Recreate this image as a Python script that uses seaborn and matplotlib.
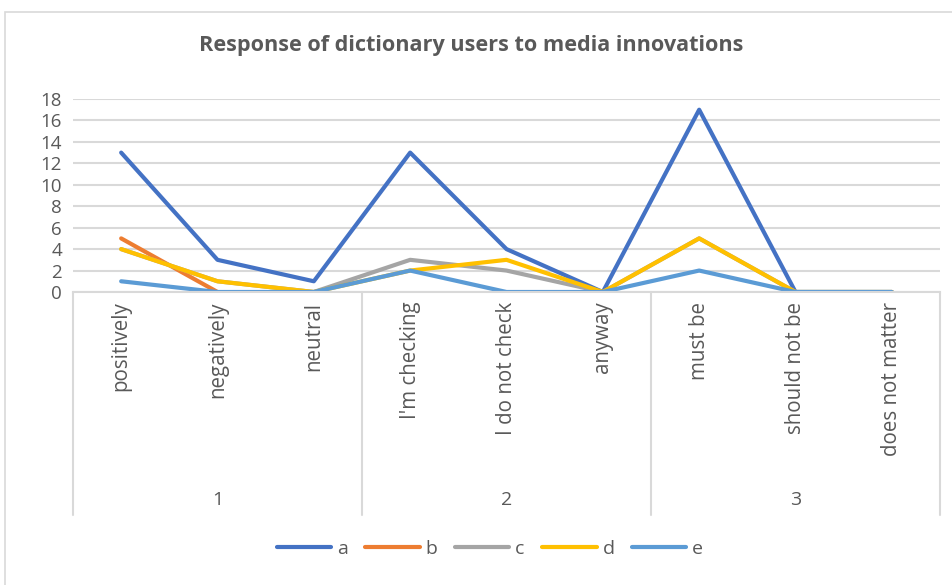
import matplotlib
matplotlib.use("Agg")
import matplotlib.pyplot as plt
import matplotlib.transforms as mtransforms
from matplotlib.patches import Rectangle
import seaborn as sns
import pandas as pd
import numpy as np

categories = ["positively", "negatively", "neutral", "I'm checking", "I do not check",
              "anyway", "must be", "should not be", "does not matter"]
groups = ["1", "2", "3"]
series_names = ["a", "b", "c", "d", "e"]
nan = np.nan
a = [13, 3, 1, 13, 4, 0, 17, 0, 0]
b = [5, 0, nan, nan, nan, nan, nan, nan, nan]
c = [4, 1, 0, 3, 2, 0, 5, 0, 0]
d = [4, 1, 0, 2, 3, 0, 5, 0, 0]
e = [1, 0, 0, 2, 0, 0, 2, 0, 0]
colors = ["#4472C4", "#ED7D31", "#A5A5A5", "#FFC000", "#5B9BD5"]
title = "Response of dictionary users to media innovations"

rows = []
for name, vals in zip(series_names, [a, b, c, d, e]):
    for cat, v in zip(categories, vals):
        rows.append({"category": cat, "value": v, "series": name})
df = pd.DataFrame(rows)

sns.set_theme(style="white")
plt.rcParams["font.family"] = ["Open Sans", "DejaVu Sans"]
txt = "#595959"

fig = plt.figure(figsize=(9.53, 5.85), dpi=100)
W, H = 953, 585
ax = fig.add_axes([73 / W, (H - 292) / H, (940 - 73) / W, (292 - 99) / H])

sns.lineplot(data=df, x="category", y="value", hue="series", palette=colors,
             linewidth=3.0, ax=ax, sort=False, solid_capstyle="round",
             solid_joinstyle="round")

ax.set_xlim(-0.5, len(categories) - 0.5)
ax.set_ylim(0, 18)
ax.set_yticks(range(0, 19, 2))
ax.yaxis.grid(True, color="#D9D9D9", linewidth=1.5)
ax.set_axisbelow(True)
for s in ["left", "right", "top"]:
    ax.spines[s].set_visible(False)
ax.spines["bottom"].set_color("#D9D9D9")
ax.spines["bottom"].set_linewidth(1.5)
ax.tick_params(axis="y", length=0, pad=8, labelsize=13.5, labelcolor=txt)
ax.set_xticks(range(len(categories)))
ax.set_xticklabels(categories, rotation=90, fontsize=14.8, color=txt, va="top")
ax.tick_params(axis="x", length=0, pad=7)
ax.set_xlabel("")
ax.set_ylabel("")

trans = mtransforms.blended_transform_factory(ax.transData, ax.transAxes)
bottom_ax = (292 - 515) / (292 - 99)
for xs in [-0.5, 2.5, 5.5, 8.5]:
    ax.plot([xs, xs], [0, bottom_ax], transform=trans, color="#D9D9D9",
            linewidth=1.5, clip_on=False)
group_y = (292 - 500) / (292 - 99)
for i, g in enumerate(groups):
    ax.text(1 + 3 * i, group_y, g, transform=trans, ha="center", va="center",
            fontsize=14, color=txt)

fig.text(471 / W, 1 - 46 / H, title, ha="center", va="center", fontsize=15.6,
         fontweight="bold", color=txt)

sns.move_legend(ax, "center", bbox_to_anchor=(490 / W, 1 - 549 / H),
                bbox_transform=fig.transFigure, ncol=5, frameon=False, title=None,
                fontsize=14, handlelength=2.8, columnspacing=0.9, handletextpad=0.3)
for t in ax.get_legend().get_texts():
    t.set_color(txt)
for l in ax.get_legend().get_lines():
    l.set_linewidth(3.0)
    l.set_solid_capstyle("round")

fig.patches.append(Rectangle((5 / W, -0.05), 1.1, 1 - 12 / H + 0.05,
                             transform=fig.transFigure, fill=False,
                             edgecolor="#D9D9D9", linewidth=1.2))

fig.savefig("out.png", dpi=100)
